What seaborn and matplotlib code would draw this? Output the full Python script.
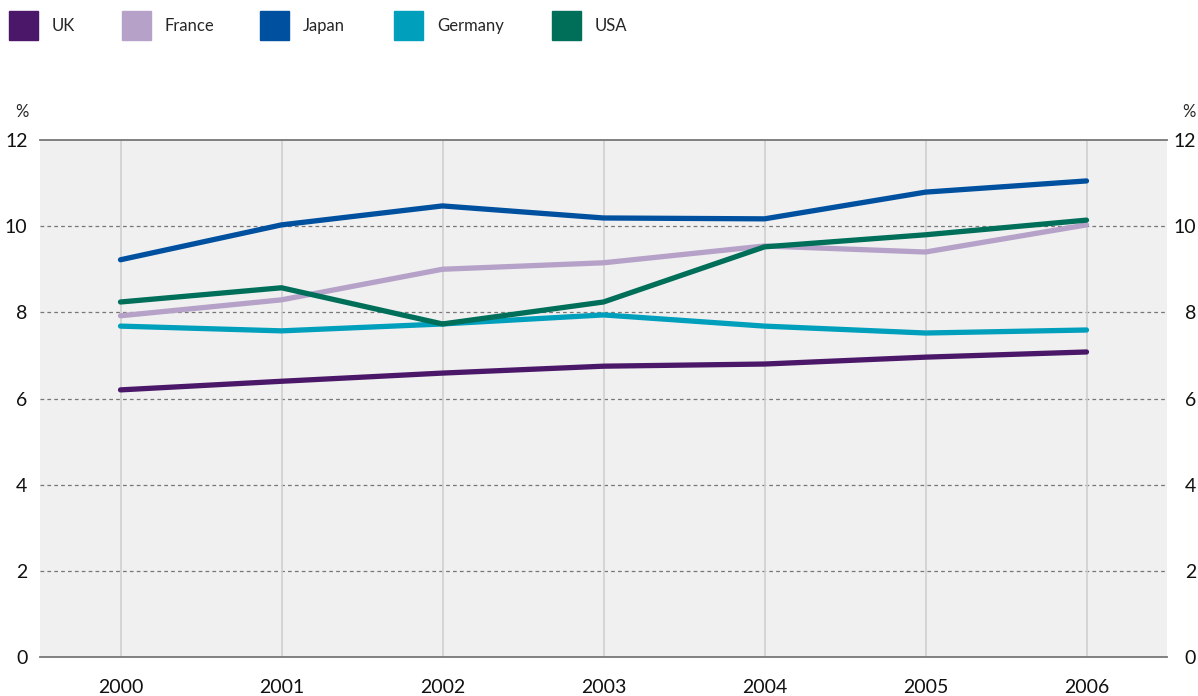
import pandas as pd
import matplotlib.pyplot as plt
import matplotlib.patches as mpatches
import seaborn as sns

years = [2000, 2001, 2002, 2003, 2004, 2005, 2006]
uk = [6.2, 6.4, 6.59, 6.75, 6.8, 6.96, 7.08]
france = [7.92, 8.29, 9.0, 9.15, 9.54, 9.4, 10.03]
japan = [9.22, 10.03, 10.47, 10.19, 10.17, 10.79, 11.05]
germany = [7.68, 7.57, 7.73, 7.94, 7.68, 7.52, 7.59]
usa = [8.24, 8.57, 7.73, 8.24, 9.52, 9.8, 10.14]

countries = ["UK", "France", "Japan", "Germany", "USA"]
colors = ["#4b1869", "#b6a2c8", "#0050a0", "#009fbc", "#006f5a"]
yticks = [0, 2, 4, 6, 8, 10, 12]

df = pd.DataFrame({"year": years * 5,
                   "value": uk + france + japan + germany + usa,
                   "country": [c for c in countries for _ in years]})

sns.set_style("white")
plt.rcParams["font.family"] = ["Lato", "DejaVu Sans"]

fig = plt.figure(figsize=(11.98, 6.96), dpi=100)
ax = fig.add_axes([40 / 1198, 39 / 696, 1127 / 1198, 517 / 696])
ax.set_facecolor("#f0f0f0")

# grid
for y in yticks[1:-1]:
    ax.axhline(y, color="#777777", lw=0.9, ls=(0, (3, 2.5)), zorder=1)
for x in years:
    ax.axvline(x, color="#cfcfcf", lw=1.2, zorder=1)

sns.lineplot(data=df, x="year", y="value", hue="country", hue_order=countries,
             palette=colors, lw=3.8, legend=False, ax=ax, zorder=3)

ax.set_xlim(1999.5, 2006.5)
ax.set_ylim(0, 12)
ax.set_xticks(years)
ax.set_yticks(yticks)
ax.set_xlabel("")
ax.set_ylabel("")
for s in ["left", "right"]:
    ax.spines[s].set_visible(False)
for s in ["top", "bottom"]:
    ax.spines[s].set_color("#777777")
    ax.spines[s].set_linewidth(1.3)
ax.tick_params(axis="both", length=0, labelsize=14, colors="#111111")
ax.tick_params(axis="x", pad=16)
ax.tick_params(axis="y", pad=9)

# right-hand scale, right-aligned at the figure edge
ax2 = ax.twinx()
ax2.set_ylim(0, 12)
ax2.set_yticks(yticks)
for s in ax2.spines.values():
    s.set_visible(False)
ax2.tick_params(axis="y", length=0, labelsize=14, colors="#111111", pad=21)
for lab in ax2.get_yticklabels():
    lab.set_horizontalalignment("right")

fig.text(22 / 1198, 1 - 112 / 696, "%", ha="center", va="center", fontsize=12)
fig.text(1189 / 1198, 1 - 112 / 696, "%", ha="center", va="center", fontsize=12)

# legend
xs = [9, 122, 260, 394, 552]
for name, col, x in zip(countries, colors, xs):
    fig.patches.append(mpatches.Rectangle((x / 1198, 1 - 40 / 696), 29 / 1198, 29 / 696,
                                          transform=fig.transFigure, color=col))
    fig.text((x + 43) / 1198, 1 - 26 / 696, name, ha="left", va="center", fontsize=12)

fig.savefig("out.png", dpi=100)
